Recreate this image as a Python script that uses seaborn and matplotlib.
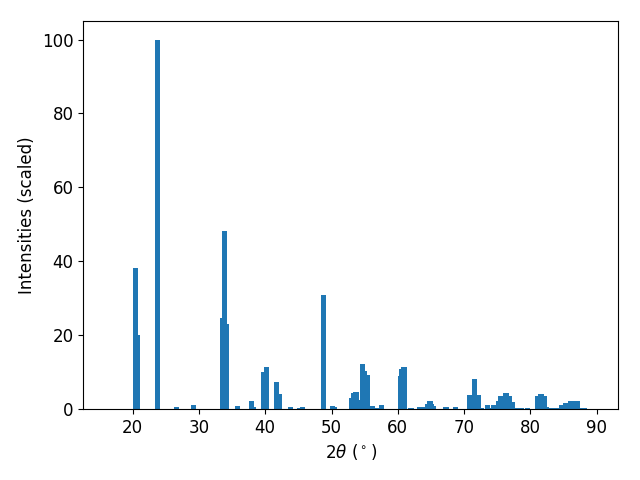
import numpy as np
import pandas as pd
import seaborn as sns
from matplotlib import pyplot as plt

# XRD peak positions (2theta, degrees) and scaled intensities
two_theta = [20.47, 20.77, 23.79, 26.65, 29.22, 33.59, 33.91, 34.15, 35.85,
             37.96, 38.26, 39.77, 40.23, 41.73, 42.19, 43.77, 45.20, 45.66,
             48.82, 50.18, 50.48, 53.05, 53.35, 53.65, 53.80, 53.95, 54.70,
             55.00, 55.46, 56.21, 56.82, 57.57, 60.44, 60.60, 60.90, 61.05,
             61.85, 62.00, 63.30, 63.75, 64.50, 64.80, 64.95, 65.10, 65.41,
             67.20, 67.40, 68.70, 70.84, 71.52, 72.20, 72.65, 73.56, 74.10,
             74.40, 75.22, 75.52, 76.27, 76.42, 76.88, 77.33, 78.08, 78.68,
             79.60, 81.10, 81.48, 81.70, 82.15, 82.46, 83.13, 83.43, 84.10,
             84.72, 85.10, 85.32, 86.08, 86.76, 87.13, 87.80, 88.20]
intensity = [38.2, 19.9, 100.0, 0.6, 1.2, 24.7, 48.2, 23.0, 0.8,
             2.2, 0.5, 10.0, 11.4, 7.3, 4.1, 0.5, 0.3, 0.5,
             30.9, 0.8, 0.5, 3.0, 4.3, 4.6, 4.6, 2.4, 12.2,
             10.3, 9.2, 0.8, 0.3, 1.1, 8.9, 10.8, 11.4, 11.4,
             0.3, 0.3, 0.5, 0.5, 1.4, 2.2, 2.2, 1.4, 0.8,
             0.5, 0.5, 0.5, 3.8, 8.1, 3.8, 0.3, 1.1, 0.3,
             1.1, 2.2, 3.5, 4.3, 4.3, 3.5, 1.9, 0.3, 0.3,
             0.3, 3.5, 4.1, 4.1, 3.5, 0.5, 0.3, 0.3, 0.3,
             1.1, 0.8, 1.6, 2.2, 2.2, 2.2, 0.3, 0.3]

df = pd.DataFrame({'two_theta': two_theta, 'intensity': intensity})

bar_width_deg = 0.75
min_step = np.min(np.diff(np.unique(df['two_theta'])))

fig, ax = plt.subplots(figsize=(6.4, 4.8), dpi=100)
sns.barplot(data=df, x='two_theta', y='intensity', native_scale=True,
            width=bar_width_deg / min_step, color='#1f77b4', saturation=1,
            errorbar=None, linewidth=0, edgecolor='none', ax=ax)
ax.set_xlim(12.55, 93.24)
ax.set_ylim(0, 105)
ax.set_xlabel(r'$2\theta$ ($^\circ$)', fontsize=12)
ax.set_ylabel('Intensities (scaled)', fontsize=12)
ax.tick_params(labelsize=12)
fig.subplots_adjust(left=0.130, right=0.966, top=0.956, bottom=0.148)
fig.savefig('out.png', dpi=100)
